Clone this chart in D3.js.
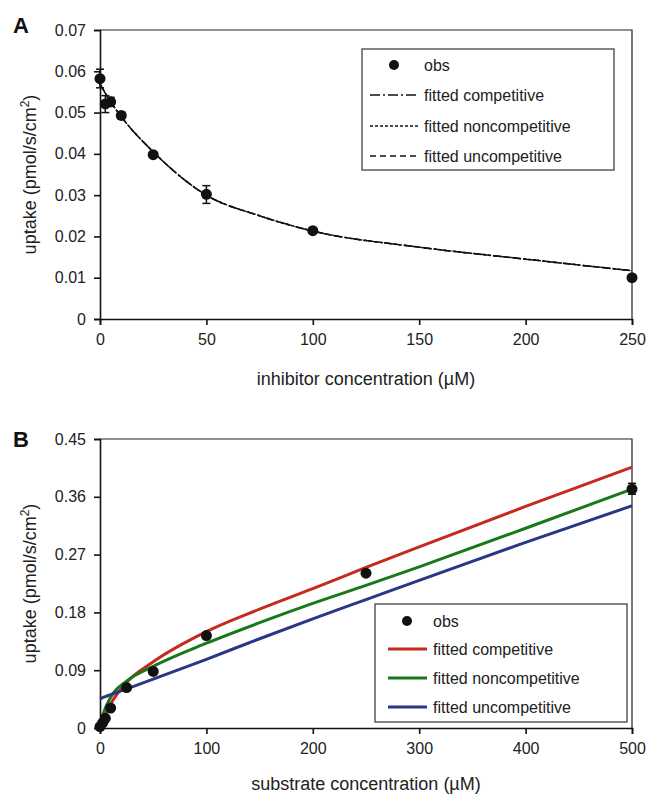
<!DOCTYPE html>
<html>
<head>
<meta charset="utf-8">
<script src="https://cdn.jsdelivr.net/npm/d3@7"></script>
<style>
  body { margin: 0; background: #fff; }
  svg { font-family: "Liberation Sans", Arial, sans-serif; }
  .axis text { font-size: 16px; fill: #222; }
  .axis path, .axis line { stroke: #111; stroke-width: 1.6; }
</style>
</head>
<body>
<div id="chart"></div>
<script>
// ---------- data: panel A (inhibitor) ----------
const obsA_x = [0, 2.5, 5, 10, 25, 50, 100, 250];
const obsA_y = [0.0582, 0.0521, 0.0526, 0.0493, 0.0398, 0.0302, 0.0214, 0.0100];
const obsA_lo = [0.0560, 0.0500, 0.0515, 0.0485, 0.0395, 0.0280, 0.0212, 0.0098];
const obsA_hi = [0.0605, 0.0541, 0.0537, 0.0501, 0.0401, 0.0323, 0.0216, 0.0102];

// the three fitted curves overlap in A
const fitA_x = [0, 5, 10, 25, 50, 75, 100, 150, 200, 250];
const fitA_y = [0.0569, 0.0526, 0.0490, 0.0405, 0.0300, 0.0250, 0.0213, 0.0174, 0.0145, 0.0117];

// ---------- data: panel B (substrate) ----------
const obsB_x = [0, 2.5, 5, 10, 25, 50, 100, 250, 500];
const obsB_y = [0.002, 0.008, 0.015, 0.031, 0.063, 0.088, 0.144, 0.241, 0.372];
const obsB_lo = [0.002, 0.008, 0.015, 0.031, 0.063, 0.088, 0.144, 0.241, 0.364];
const obsB_hi = [0.002, 0.008, 0.015, 0.031, 0.063, 0.088, 0.144, 0.241, 0.381];

const fitB_x = [0, 2, 5, 10, 25, 50, 100, 150, 200, 250, 300, 400, 500];
const fitComp = [0, 0.009, 0.020, 0.037, 0.071, 0.103, 0.150, 0.185, 0.217, 0.250, 0.282, 0.345, 0.406];
const fitNonc = [0.004, 0.017, 0.031, 0.048, 0.073, 0.096, 0.132, 0.164, 0.194, 0.222, 0.251, 0.311, 0.372];
const fitUnc  = [0.045, 0.047, 0.049, 0.052, 0.061, 0.076, 0.107, 0.139, 0.170, 0.200, 0.230, 0.289, 0.346];

const legendLabels = ["obs", "fitted competitive", "fitted noncompetitive", "fitted uncompetitive"];
const colorsB = ["#c62a1f", "#19771c", "#2a3785"];
const dashesA = ["10,3,2,3", "3,2", "6,4"];

// ---------- svg ----------
const width = 649, height = 797;
const svg = d3.select("#chart").append("svg")
  .attr("width", width)
  .attr("height", height);

function panel(opt) {
  const g = svg.append("g");
  const x = d3.scaleLinear().domain(opt.xDomain).range([100, 632]);
  const y = d3.scaleLinear().domain(opt.yDomain).range([opt.bottom, opt.top]);

  // frame (top / right)
  g.append("path")
    .attr("d", `M100,${opt.top}H632V${opt.bottom}`)
    .attr("fill", "none").attr("stroke", "#222").attr("stroke-width", 1.2);

  g.append("g").attr("class", "axis")
    .attr("transform", `translate(0,${opt.bottom})`)
    .call(d3.axisBottom(x).tickValues(opt.xTicks).tickSizeOuter(0).tickSize(6).tickPadding(9));
  g.append("g").attr("class", "axis")
    .attr("transform", "translate(100,0)")
    .call(d3.axisLeft(y).tickValues(opt.yTicks).tickFormat(opt.yFormat).tickSizeOuter(0).tickSize(6).tickPadding(8));

  // titles
  g.append("text")
    .attr("x", 366).attr("y", opt.titleY)
    .attr("text-anchor", "middle").attr("font-size", 18).attr("fill", "#222")
    .text(opt.xTitle);
  const yl = g.append("text")
    .attr("transform", `translate(36,${(opt.top + opt.bottom) / 2}) rotate(-90)`)
    .attr("text-anchor", "middle").attr("font-size", 18).attr("fill", "#222");
  yl.append("tspan").text("uptake (pmol/s/cm");
  yl.append("tspan").attr("font-size", 12).attr("dy", -7).text("2");
  yl.append("tspan").attr("dy", 7).text(")");

  g.append("text")
    .attr("x", 13).attr("y", opt.letterY)
    .attr("font-size", 22).attr("font-weight", "bold").attr("fill", "#111")
    .text(opt.letter);

  return { g, x, y };
}

function drawObs(p, xs, ys, lo, hi) {
  const pts = xs.map((d, i) => ({ x: d, y: ys[i], lo: lo[i], hi: hi[i] }));
  const eb = p.g.append("g").attr("stroke", "#111").attr("stroke-width", 1.5);
  pts.filter(d => d.hi - d.lo > 0.0008).forEach(d => {
    const cx = p.x(d.x);
    eb.append("line").attr("x1", cx).attr("x2", cx).attr("y1", p.y(d.lo)).attr("y2", p.y(d.hi));
    eb.append("line").attr("x1", cx - 4).attr("x2", cx + 4).attr("y1", p.y(d.lo)).attr("y2", p.y(d.lo));
    eb.append("line").attr("x1", cx - 4).attr("x2", cx + 4).attr("y1", p.y(d.hi)).attr("y2", p.y(d.hi));
  });
  p.g.append("g").selectAll("circle").data(pts).join("circle")
    .attr("cx", d => p.x(d.x)).attr("cy", d => p.y(d.y))
    .attr("r", 5.5).attr("fill", "#111");
}

function legend(g, x0, y0, w, h, rows, rowY, drawSample) {
  g.append("rect").attr("x", x0).attr("y", y0).attr("width", w).attr("height", h)
    .attr("fill", "#fff").attr("stroke", "#333").attr("stroke-width", 1.2);
  legendLabels.forEach((t, i) => {
    const yy = rowY[i];
    drawSample(i, yy);
    g.append("text").attr("x", rows.textX).attr("y", yy).attr("dy", "0.35em")
      .attr("font-size", 16).attr("fill", "#222").text(t);
  });
}

// ---------- panel A ----------
const A = panel({
  xDomain: [0, 250], yDomain: [0, 0.07], top: 30, bottom: 319,
  xTicks: [0, 50, 100, 150, 200, 250],
  yTicks: d3.range(0, 0.0701, 0.01),
  yFormat: d => d === 0 ? "0" : d3.format(".2f")(d),
  xTitle: "inhibitor concentration (µM)", letter: "A",
  titleY: 385, letterY: 33
});

const lineA = d3.line().curve(d3.curveMonotoneX)
  .x((d, i) => A.x(fitA_x[i])).y(d => A.y(d));
dashesA.forEach(da => {
  A.g.append("path").datum(fitA_y).attr("d", lineA)
    .attr("fill", "none").attr("stroke", "#111").attr("stroke-width", 1.5)
    .attr("stroke-dasharray", da);
});
drawObs(A, obsA_x, obsA_y, obsA_lo, obsA_hi);

legend(A.g, 362, 49, 252, 121, { textX: 424 }, [65, 95, 126, 156], (i, yy) => {
  if (i === 0) {
    A.g.append("circle").attr("cx", 394).attr("cy", yy).attr("r", 5).attr("fill", "#111");
  } else {
    A.g.append("line").attr("x1", 370).attr("x2", 418).attr("y1", yy).attr("y2", yy)
      .attr("stroke", "#111").attr("stroke-width", 1.5).attr("stroke-dasharray", dashesA[i - 1]);
  }
});

// ---------- panel B ----------
const B = panel({
  xDomain: [0, 500], yDomain: [0, 0.45], top: 439, bottom: 728,
  xTicks: [0, 100, 200, 300, 400, 500],
  yTicks: d3.range(0, 0.4501, 0.09),
  yFormat: d => d === 0 ? "0" : d3.format(".2f")(d),
  xTitle: "substrate concentration (µM)", letter: "B",
  titleY: 790, letterY: 447
});

const lineB = d3.line().curve(d3.curveMonotoneX)
  .x((d, i) => B.x(fitB_x[i])).y(d => B.y(d));
[fitComp, fitNonc, fitUnc].forEach((s, k) => {
  B.g.append("path").datum(s).attr("d", lineB)
    .attr("fill", "none").attr("stroke", colorsB[k]).attr("stroke-width", 3);
});
drawObs(B, obsB_x, obsB_y, obsB_lo, obsB_hi);

legend(B.g, 375, 604, 252, 118, { textX: 433 }, [621, 649, 678, 707], (i, yy) => {
  if (i === 0) {
    B.g.append("circle").attr("cx", 407).attr("cy", yy).attr("r", 5).attr("fill", "#111");
  } else {
    B.g.append("line").attr("x1", 388).attr("x2", 427).attr("y1", yy).attr("y2", yy)
      .attr("stroke", colorsB[i - 1]).attr("stroke-width", 3);
  }
});
</script>
</body>
</html>
